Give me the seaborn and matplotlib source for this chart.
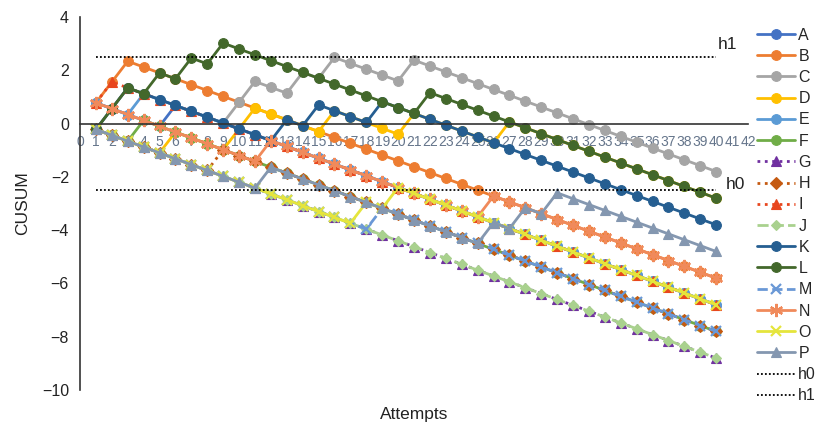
import numpy as np
import pandas as pd
import matplotlib
matplotlib.use("Agg")
import matplotlib.pyplot as plt
import seaborn as sns

# ---- data ----
attempts = list(range(1, 41))
series_names = list("ABCDEFGHIJKLMNOP")
# attempt numbers at which each trainee failed (each step up on the chart)
fail_A = [1, 6]
fail_B = [1, 2, 3]
fail_C = [2, 3, 10, 11, 14, 16, 21]
fail_D = [6, 10, 11, 16, 21, 27]
fail_E = [1, 4]
fail_F = [4]
fail_G = []
fail_H = [9]
fail_I = [1, 2]
fail_J = []
fail_K = [2, 3, 13, 15, 19]
fail_L = [2, 3, 5, 7, 9, 22]
fail_M = [19]
fail_N = [1, 12, 26]
fail_O = [18, 20]
fail_P = [12, 26, 28, 30]
fails = [fail_A, fail_B, fail_C, fail_D, fail_E, fail_F, fail_G, fail_H,
         fail_I, fail_J, fail_K, fail_L, fail_M, fail_N, fail_O, fail_P]
step_s = 0.22          # decrement per success (failure adds 1 - s)
h0_value = -2.5
h1_value = 2.5
x_ticks = list(range(0, 43))
y_ticks = [-10, -8, -6, -4, -2, 0, 2, 4]

rows = []
for name, fl in zip(series_names, fails):
    outcome = np.array([1 if a in fl else 0 for a in attempts])
    cusum = np.cumsum(outcome - step_s)
    for a, v in zip(attempts, cusum):
        rows.append({"Attempts": a, "CUSUM": v, "Series": name})
df = pd.DataFrame(rows)
lim_df = pd.DataFrame({"Attempts": attempts,
                       "h0": [h0_value] * len(attempts),
                       "h1": [h1_value] * len(attempts)})

# ---- styles ----
styles = {
    "A": dict(color="#4472C4", marker="o", ls="-", ms=7),
    "B": dict(color="#ED7D31", marker="o", ls="-", ms=7),
    "C": dict(color="#A5A5A5", marker="o", ls="-", ms=7),
    "D": dict(color="#FFC000", marker="o", ls="-", ms=7),
    "E": dict(color="#5B9BD5", marker="o", ls="-", ms=7),
    "F": dict(color="#70AD47", marker="o", ls="-", ms=7),
    "G": dict(color="#7030A0", marker="^", ls=":", ms=7),
    "H": dict(color="#C55A11", marker="D", ls=":", ms=6),
    "I": dict(color="#E8461E", marker="^", ls=":", ms=7.5),
    "J": dict(color="#A9D18E", marker="D", ls=(0, (4, 1.5)), ms=5.5),
    "K": dict(color="#255E91", marker="o", ls="-", ms=7),
    "L": dict(color="#43682B", marker="o", ls="-", ms=7),
    "M": dict(color="#6A98D6", marker="x", ls="--", ms=7.5),
    "N": dict(color="#F08A5B", marker=(6, 2, 0), ls="-", ms=9.5),
    "O": dict(color="#E5E53C", marker="x", ls="-", ms=7.5),
    "P": dict(color="#8497B0", marker="^", ls="-", ms=7.5),
}

sns.set_style("white")
plt.rcParams["font.family"] = ["Liberation Sans", "DejaVu Sans"]

fig = plt.figure(figsize=(8.19, 4.24), dpi=100)
ax = fig.add_axes([0.0977, 0.080, 0.8156, 0.880])

for name in series_names:
    st = styles[name]
    sub = df[df["Series"] == name]
    mew = 1.6 if st["marker"] in ("x", (6, 2, 0)) else 0.8
    sns.lineplot(data=sub, x="Attempts", y="CUSUM", ax=ax, color=st["color"],
                 marker=st["marker"], markersize=st["ms"], linewidth=2.0,
                 linestyle=st["ls"], markeredgecolor=st["color"],
                 markeredgewidth=mew, label=name, estimator=None)

sns.lineplot(data=lim_df, x="Attempts", y="h0", ax=ax, color="black",
             linewidth=1.3, linestyle=(0, (1, 1.2)), label="h0", estimator=None)
sns.lineplot(data=lim_df, x="Attempts", y="h1", ax=ax, color="black",
             linewidth=1.3, linestyle=(0, (1, 1.2)), label="h1", estimator=None)

ax.text(40.1, 2.95, "h1", fontsize=12.5, va="center", ha="left", color="#222222")
ax.text(40.6, -2.28, "h0", fontsize=12.5, va="center", ha="left", color="#222222")

ax.set_xlim(0, 42)
ax.set_ylim(-10, 4)
ax.set_xticks(x_ticks)
ax.set_yticks(y_ticks)
ax.spines["top"].set_visible(False)
ax.spines["right"].set_visible(False)
ax.spines["bottom"].set_position(("data", 0))
for sp in ("bottom", "left"):
    ax.spines[sp].set_color("#333333")
    ax.spines[sp].set_linewidth(1.2)
ax.tick_params(axis="x", direction="out", length=6, width=1.0, color="#333333",
               labelsize=10, labelcolor="#65758B", pad=2.5)
ax.tick_params(axis="y", direction="out", length=5, width=1.0, color="#333333",
               labelsize=11.5, labelcolor="#222222", pad=3)
ax.set_xlabel("Attempts", fontsize=12.5, color="#222222")
ax.set_ylabel("CUSUM", fontsize=12.5, color="#222222")
ax.xaxis.set_label_coords(0.5, -0.045)
ax.yaxis.set_label_coords(-0.075, 0.5)

handles, labels = ax.get_legend_handles_labels()
leg = fig.legend(handles, labels, loc="upper left", bbox_to_anchor=(0.924, 0.935),
                 frameon=False, fontsize=11.5, handlelength=2.4, handletextpad=0.2,
                 labelspacing=0.39, borderaxespad=0, borderpad=0)
if ax.legend_:
    ax.legend_.remove()

fig.savefig("out.png", dpi=100)
